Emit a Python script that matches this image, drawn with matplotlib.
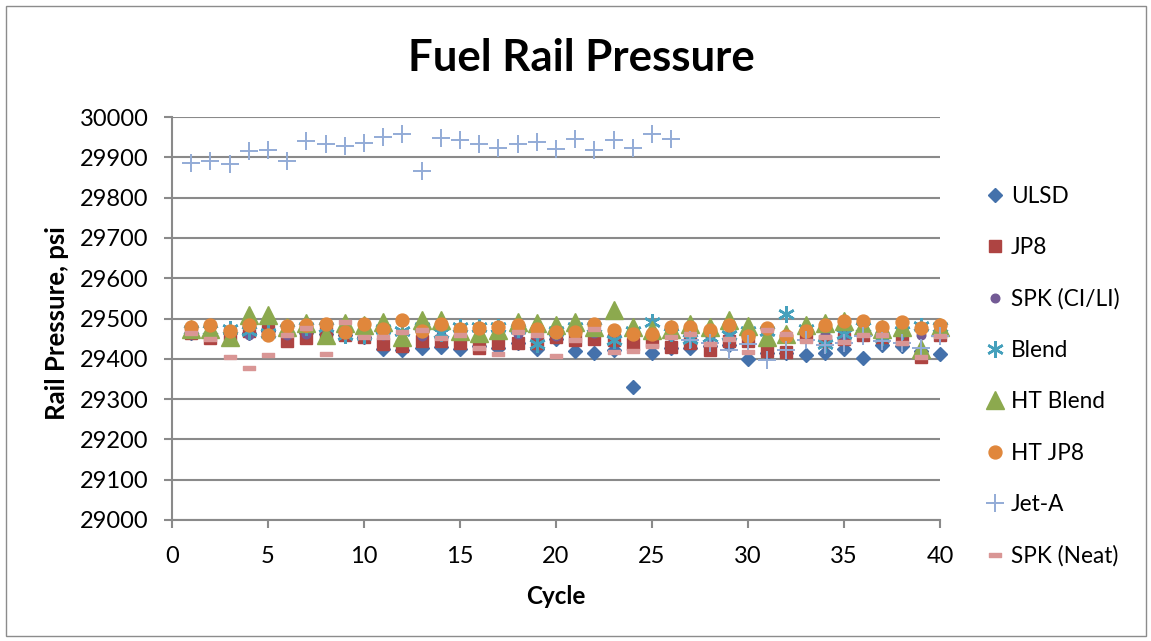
import matplotlib
matplotlib.use("Agg")
import matplotlib.pyplot as plt
from matplotlib.patches import Rectangle
from matplotlib.path import Path
import numpy as np

plt.rcParams['font.family'] = ['Lato', 'DejaVu Sans']

cycles = list(range(1, 41))

ulsd = [29465, 29462, 29465, 29465, 29468, 29460, 29465, 29462, 29460, 29455,
        29425, 29423, 29427, 29430, 29425, 29432, 29428, 29440, 29425, 29450,
        29420, 29414, 29422, 29330, 29414, 29428, 29427, 29432, 29435, 29400,
        29415, 29415, 29410, 29415, 29425, 29403, 29435, 29432, 29420, 29412]
jp8 = [29465, 29451, 29462, 29468, 29470, 29443, 29451, 29465, 29458, 29455,
       29436, 29432, 29444, 29445, 29440, 29428, 29438, 29440, 29438, 29455,
       29446, 29450, 29446, 29437, 29445, 29429, 29440, 29421, 29445, 29445,
       29420, 29416, 29460, 29445, 29450, 29460, 29455, 29450, 29404, 29460]
spk_ci = [29462, 29460, 29457, 29460, 29463, 29459, 29462, 29458, 29461, 29463,
          29460, 29462, 29457, 29460, 29463, 29458, 29461, 29462, 29460, 29457,
          29461, 29463, 29458, 29460, 29462, 29457, 29460, 29455, 29462, 29459,
          29458, 29461, 29465, 29462, 29460, 29465, 29460, 29463, 29458, 29462]
blend = [29472, 29472, 29475, 29470, 29465, 29475, 29480, 29480, 29460, 29460,
         29475, 29470, 29480, 29465, 29480, 29478, 29480, 29475, 29436, 29470,
         29478, 29480, 29446, 29470, 29492, 29465, 29450, 29455, 29458, 29470,
         29470, 29510, 29475, 29437, 29461, 29480, 29455, 29470, 29481, 29480]
ht_blend = [29475, 29475, 29455, 29508, 29508, 29480, 29490, 29458, 29490, 29483,
            29492, 29455, 29496, 29497, 29468, 29463, 29471, 29492, 29490, 29485,
            29492, 29479, 29521, 29479, 29471, 29475, 29487, 29479, 29496, 29482,
            29453, 29462, 29483, 29488, 29495, 29482, 29473, 29480, 29425, 29480]
ht_jp8 = [29479, 29483, 29470, 29485, 29458, 29481, 29485, 29487, 29466, 29487,
          29475, 29497, 29469, 29487, 29475, 29477, 29479, 29484, 29475, 29467,
          29467, 29487, 29471, 29462, 29462, 29479, 29479, 29471, 29483, 29457,
          29477, 29457, 29469, 29485, 29493, 29495, 29479, 29491, 29477, 29485]
jet_a = [29887, 29892, 29883, 29915, 29918, 29891, 29940, 29932, 29927, 29935,
         29950, 29957, 29867, 29948, 29943, 29932, 29922, 29933, 29937, 29921,
         29946, 29917, 29944, 29923, 29957, 29946, 29447, 29440, 29422, 29437,
         29397, 29422, 29447, 29435, 29440, 29457, 29445, 29440, 29428, 29457]
spk_neat = [29464, 29450, 29405, 29377, 29410, 29458, 29477, 29413, 29492, 29455,
            29455, 29467, 29471, 29452, 29459, 29428, 29411, 29467, 29458, 29406,
            29446, 29475, 29417, 29420, 29433, 29454, 29462, 29437, 29450, 29416,
            29471, 29461, 29445, 29454, 29441, 29459, 29459, 29440, 29404, 29457]

W, H = 1151, 641
fig = plt.figure(figsize=(W / 100, H / 100), dpi=100)
fig.patch.set_facecolor('white')

L, R, T, B = 172, 940, 117, 520
ax = fig.add_axes([L / W, 1 - B / H, (R - L) / W, (B - T) / H])

dash = Path([(-1, -0.38), (1, -0.38), (1, 0.38), (-1, 0.38), (-1, -0.38)],
            [Path.MOVETO, Path.LINETO, Path.LINETO, Path.LINETO, Path.CLOSEPOLY])

series = [
    ("ULSD", ulsd, dict(marker='D', ms=7.4, color='#4471AB')),
    ("JP8", jp8, dict(marker='s', ms=8.8, color='#AE4442')),
    ("SPK (CI/LI)", spk_ci, dict(marker='o', ms=6.2, color='#735A95')),
    ("Blend", blend, dict(marker=(6, 2, 0), ms=12, mew=1.8, color='#45A0BC')),
    ("HT Blend", ht_blend, dict(marker='^', ms=12.5, color='#8CA94E')),
    ("HT JP8", ht_jp8, dict(marker='o', ms=9.3, color='#E0873C')),
    ("Jet-A", jet_a, dict(marker='+', ms=12.5, mew=1.4, color='#93ABD6')),
    ("SPK (Neat)", spk_neat, dict(marker=dash, ms=9, color='#D99695')),
]

handles = []
for i, (name, vals, st) in enumerate(series):
    c = st.pop('color')
    h, = ax.plot(cycles, vals, linestyle='none', color=c, mfc=c, mec=c,
                 label=name, zorder=3 + i, clip_on=False, **st)
    handles.append(h)

grid_c = '#8A8A8A'
ax.set_xlim(0, 40)
ax.set_ylim(29000, 30000)
ax.set_xticks(range(0, 41, 5))
ax.set_yticks(range(29000, 30001, 100))
ax.yaxis.grid(True, color=grid_c, linewidth=1.5, zorder=0)
ax.set_axisbelow(True)
for s in ['top', 'right']:
    ax.spines[s].set_visible(False)
for s in ['left', 'bottom']:
    ax.spines[s].set_color(grid_c)
    ax.spines[s].set_linewidth(1.5)
ax.tick_params(axis='both', colors=grid_c, width=1.5, length=6, direction='out',
               labelcolor='black', labelsize=17)
ax.tick_params(axis='y', pad=11)
ax.tick_params(axis='x', pad=13)

ax.set_ylabel("Rail Pressure, psi", fontsize=18.5, fontweight='bold')
ax.yaxis.set_label_coords((57 - L) / (R - L), (B - 323) / (B - T))
ax.yaxis.label.set_va('center')
ax.set_xlabel("Cycle", fontsize=17.5, fontweight='bold')
ax.xaxis.set_label_coords(0.5, (B - 596) / (B - T))
ax.xaxis.label.set_va('center')

fig.text(581 / W, 1 - 58 / H, "Fuel Rail Pressure", fontsize=31.5,
         fontweight='bold', ha='center', va='center')

leg = fig.legend(handles=handles, loc='upper left',
                 bbox_to_anchor=(986 / W, 1 - 186 / H), frameon=False,
                 fontsize=16.3, handlelength=0.8, handletextpad=0.3,
                 labelspacing=1.335, borderpad=0, borderaxespad=0,
                 numpoints=1)

fig.patches.append(Rectangle((6 / W, 5 / H), (1146 - 6) / W, (636 - 6) / H,
                             transform=fig.transFigure, fill=False,
                             edgecolor='#8C8C8C', linewidth=1.0))

fig.savefig('out.png', dpi=100)
